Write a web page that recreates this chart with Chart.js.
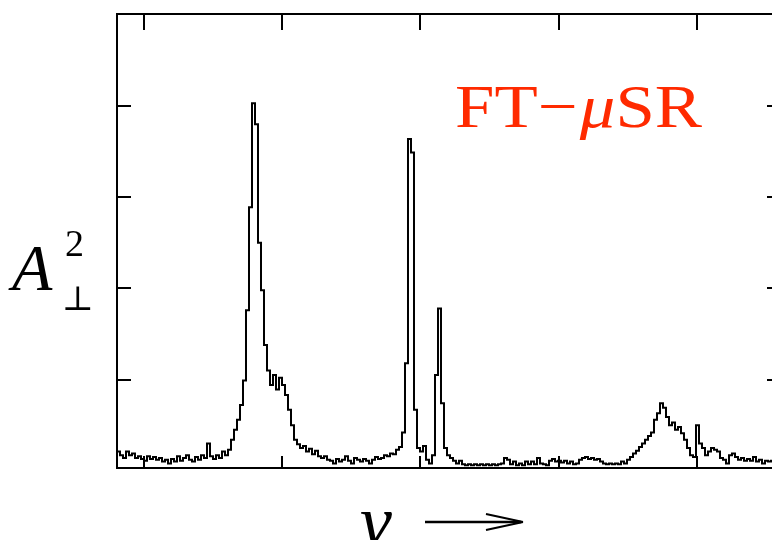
<!DOCTYPE html>
<html>
<head>
<meta charset="utf-8">
<script src="https://cdn.jsdelivr.net/npm/chart.js@4.4.1/dist/chart.umd.min.js"></script>
<style>
  html, body { margin: 0; padding: 0; background: #ffffff; overflow: hidden; }
  #wrap { position: relative; width: 772px; height: 540px; overflow: hidden; }
  canvas { position: absolute; left: 0; top: 0; }
</style>
</head>
<body>
<div id="wrap"><canvas id="c" width="800" height="540"></canvas></div>
<script>
// ---- data ----
const binStart = 0.805;      // frequency of first bin (tick units)
const binWidth = 0.0217;     // width of one histogram bin
const amplitude = [
  0.21, 0.17, 0.14, 0.21, 0.17, 0.19, 0.14, 0.16, 0.13, 0.11,
  0.16, 0.13, 0.15, 0.12, 0.14, 0.10, 0.12, 0.08, 0.13, 0.10,
  0.16, 0.11, 0.14, 0.17, 0.12, 0.10, 0.15, 0.12, 0.17, 0.14,
  0.30, 0.16, 0.13, 0.17, 0.14, 0.21, 0.17, 0.23, 0.34, 0.45,
  0.56, 0.72, 0.99, 1.76, 2.89, 4.03, 3.80, 2.50, 1.98, 1.38,
  1.10, 0.94, 1.05, 0.89, 1.02, 0.94, 0.83, 0.67, 0.50, 0.34,
  0.29, 0.25, 0.27, 0.21, 0.24, 0.18, 0.22, 0.16, 0.14, 0.16,
  0.12, 0.11, 0.08, 0.13, 0.10, 0.12, 0.16, 0.11, 0.08, 0.14,
  0.12, 0.10, 0.13, 0.11, 0.08, 0.12, 0.15, 0.13, 0.14, 0.17,
  0.16, 0.19, 0.18, 0.23, 0.26, 0.42, 1.18, 3.64, 3.49, 0.67,
  0.25, 0.21, 0.27, 0.12, 0.08, 0.17, 1.05, 1.78, 0.74, 0.25,
  0.17, 0.14, 0.11, 0.08, 0.11, 0.07, 0.06, 0.07, 0.06, 0.07,
  0.06, 0.07, 0.06, 0.07, 0.06, 0.07, 0.06, 0.07, 0.08, 0.14,
  0.12, 0.07, 0.10, 0.06, 0.08, 0.06, 0.10, 0.07, 0.10, 0.07,
  0.14, 0.08, 0.07, 0.06, 0.11, 0.13, 0.10, 0.11, 0.09, 0.11,
  0.08, 0.10, 0.07, 0.08, 0.12, 0.14, 0.15, 0.13, 0.14, 0.12,
  0.13, 0.10, 0.08, 0.07, 0.08, 0.07, 0.08, 0.07, 0.10, 0.08,
  0.12, 0.15, 0.19, 0.22, 0.26, 0.30, 0.34, 0.38, 0.42, 0.56,
  0.63, 0.74, 0.69, 0.59, 0.50, 0.53, 0.45, 0.48, 0.41, 0.34,
  0.25, 0.17, 0.15, 0.50, 0.30, 0.25, 0.17, 0.21, 0.25, 0.23,
  0.21, 0.14, 0.12, 0.08, 0.17, 0.19, 0.15, 0.12, 0.14, 0.11,
  0.13, 0.11, 0.15, 0.10, 0.12, 0.08, 0.11, 0.10, 0.11, 0.10,
  0.08, 0.09
];
const xTicks = [1, 2, 3, 4, 5];
const yTicks = [1, 2, 3, 4];
const xRange = [0.805, 5.608];
const yRange = [0.03, 5.01];
const titleText = ['FT\u2212', '\u03bc', 'SR'];
const yLabel = { main: 'A', sup: '2', sub: '\u22a5' };
const xLabel = '\u03bd';

// build point list (bin left edges, stepped)
const points = amplitude.map((v, i) => ({ x: binStart + i * binWidth, y: v }));
points.push({ x: binStart + amplitude.length * binWidth, y: amplitude[amplitude.length - 1] });

const framePlugin = {
  id: 'frame',
  afterDraw(chart) {
    const ctx = chart.ctx;
    const a = chart.chartArea;
    const xs = chart.scales.x, ys = chart.scales.y;
    ctx.save();
    ctx.strokeStyle = '#000';
    ctx.lineWidth = 2;
    ctx.strokeRect(a.left, a.top, a.right - a.left, a.bottom - a.top);
    ctx.beginPath();
    xTicks.forEach(t => {
      const px = Math.round(xs.getPixelForValue(t));
      ctx.moveTo(px, a.top); ctx.lineTo(px, a.top + 16);
      ctx.moveTo(px, a.bottom); ctx.lineTo(px, a.bottom - 12);
    });
    yTicks.forEach(t => {
      const py = Math.round(ys.getPixelForValue(t));
      ctx.moveTo(a.left, py); ctx.lineTo(a.left + 14, py);
      ctx.moveTo(a.right, py); ctx.lineTo(a.right - 14, py);
    });
    ctx.stroke();

    // title FT-μSR
    ctx.fillStyle = '#ff2a00';
    ctx.textBaseline = 'alphabetic';
    const up = '62px "Liberation Serif", serif';
    const it = 'italic 62px "Liberation Serif", serif';
    ctx.font = up; const w1 = ctx.measureText(titleText[0]).width;
    ctx.font = it; const w2 = ctx.measureText(titleText[1]).width;
    ctx.font = up; const w3 = ctx.measureText(titleText[2]).width;
    const target = 247, sx = target / (w1 + w2 + w3 + 2);
    ctx.save();
    ctx.translate(455, 127);
    ctx.scale(sx, 1);
    ctx.font = up; ctx.fillText(titleText[0], 0, 0);
    ctx.font = it; ctx.fillText(titleText[1], w1 + 2, 0);
    ctx.font = up; ctx.fillText(titleText[2], w1 + w2 + 2, 0);
    ctx.restore();

    // y label
    ctx.fillStyle = '#000';
    ctx.font = 'italic 66px "Liberation Serif", serif';
    ctx.fillText(yLabel.main, 12, 290);
    ctx.font = '38px "Liberation Serif", serif';
    ctx.fillText(yLabel.sup, 65, 256);
    ctx.font = '34px "DejaVu Serif", serif';
    ctx.fillText(yLabel.sub, 62, 310);

    // x label
    ctx.font = 'italic 72px "Liberation Serif", serif';
    ctx.fillText(xLabel, 360, 545);
    // arrow
    ctx.lineWidth = 2.5;
    ctx.beginPath();
    ctx.moveTo(425, 522); ctx.lineTo(521, 522);
    ctx.stroke();
    ctx.lineWidth = 2;
    ctx.beginPath();
    ctx.moveTo(486, 514); ctx.quadraticCurveTo(500, 517, 523, 522);
    ctx.moveTo(486, 530); ctx.quadraticCurveTo(500, 527, 523, 522);
    ctx.stroke();
    ctx.restore();
  }
};

new Chart(document.getElementById('c'), {
  type: 'line',
  data: {
    datasets: [{
      data: points,
      stepped: 'before',
      borderColor: '#000',
      borderWidth: 2,
      pointRadius: 0,
      fill: false
    }]
  },
  options: {
    responsive: false,
    animation: false,
    parsing: true,
    layout: { padding: { left: 117, top: 14, right: 19, bottom: 72 } },
    plugins: { legend: { display: false }, tooltip: { enabled: false } },
    scales: {
      x: { type: 'linear', display: false, min: xRange[0], max: xRange[1] },
      y: { type: 'linear', display: false, min: yRange[0], max: yRange[1] }
    }
  },
  plugins: [framePlugin]
});
</script>
</body>
</html>
